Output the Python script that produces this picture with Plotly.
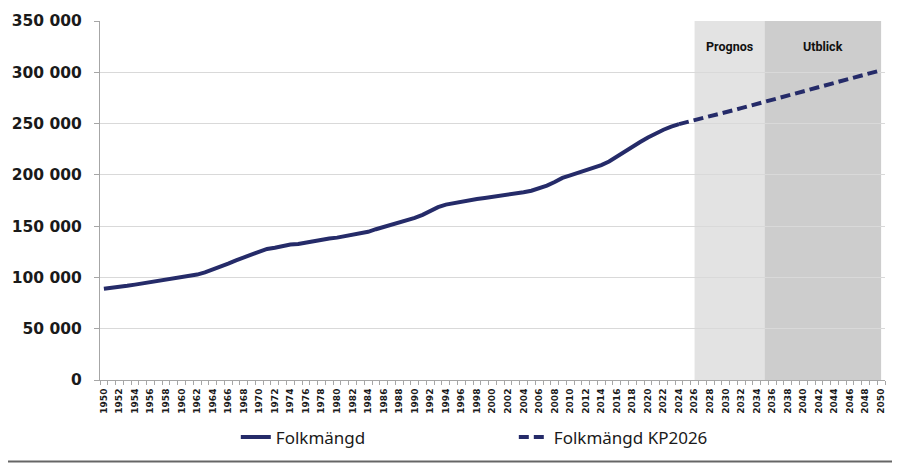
import plotly.graph_objects as go

# Befolkning per år (utfall)
years = list(range(1950, 2025))
folkmangd = [
    89000, 89700, 90500, 91800, 93000, 94300, 95500, 96800, 98000, 99000,
    100000, 101200, 102800, 105000, 107500, 110300, 113500, 116700, 119500, 122500,
    126000, 127800, 129000, 131000, 132000, 132500, 134000, 135500, 137000, 138000,
    138800, 140000, 141500, 142500, 144500, 147000, 149000, 151000, 153000, 155500,
    158000, 161000, 164800, 168500, 171000, 172500, 174000, 175300, 176500, 177500,
    178500, 179500, 180500, 181500, 183000, 184500, 186500, 189500, 193000, 197000,
    199500, 202000, 204500, 207000, 209500, 213000, 218000, 222500, 228000, 232000,
    236500, 240500, 244000, 247000, 249500,
]

# Prognos KP2026
prog_years = list(range(2024, 2051))
prognos = [
    249500, 251300, 253200, 255100, 257000, 259000, 261000, 263000, 265000, 267000,
    269000, 271000, 273000, 275000, 277000, 279000, 281000, 283100, 285200, 287300,
    289400, 291500, 293600, 295700, 297800, 299900, 302000,
]

# Perioder för bakgrundsfält
periods = [("Prognos", 2026, 2035, "#E3E3E3"), ("Utblick", 2035, 2050, "#CDCDCD")]

tick_years = list(range(1950, 2051, 2))

NAVY = "#252B69"
W, H = 900, 464
# sidan har 8 px marginal i webbläsaren, så plottytan flyttas 8 px upp/vänster
OFF = 8
ML, MR, MT, MB = 100 - OFF, 15 + OFF, 21 - OFF, 84 + OFF

fig = go.Figure()
fig.add_trace(go.Scatter(
    x=years, y=folkmangd, name="Folkmängd", mode="lines",
    line=dict(color=NAVY, width=4),
))
fig.add_trace(go.Scatter(
    x=prog_years, y=prognos, name="Folkmängd KP2026", mode="lines",
    line=dict(color=NAVY, width=4, dash="10px,5px"),
))

for label, x0, x1, col in periods:
    fig.add_shape(type="rect", xref="x", yref="y", x0=x0, x1=x1, y0=0, y1=350000,
                  fillcolor=col, line_width=0, layer="below")
    fig.add_annotation(x=(x0 + x1) / 2, y=325000, text=label, showarrow=False,
                       font=dict(family="Roboto", size=12.5, color="#111111", weight="bold"))

# ram (höger och nederkant syns i fönstret)
pw = W - ML - MR
ph = H - MT - MB
fx1 = (894 - OFF - ML) / pw
fy0 = (ph + MT - (461.5 - OFF)) / ph
fig.add_shape(type="line", xref="paper", yref="paper", x0=fx1, x1=fx1, y0=fy0, y1=1 + MT / ph,
              line=dict(color="#666666", width=2))
fig.add_shape(type="line", xref="paper", yref="paper", x0=-ML / pw, x1=fx1, y0=fy0, y1=fy0,
              line=dict(color="#666666", width=2))

fig.update_layout(
    width=W, height=H,
    margin=dict(l=ML, r=MR, t=MT, b=MB, autoexpand=False),
    paper_bgcolor="white", plot_bgcolor="white",
    separators=", ",
    showlegend=True,
    legend=dict(
        orientation="h", x=0.173, xanchor="left", y=-0.16, yanchor="middle",
        font=dict(family="Noto Sans", size=17, color="#1A1A1A"),
        entrywidth=233, entrywidthmode="pixels",
        bgcolor="rgba(0,0,0,0)",
    ),
)

fig.update_xaxes(
    range=[1949.5, 2050.5], automargin=False,
    tickvals=tick_years, ticktext=[str(y) for y in tick_years],
    tickangle=-90, ticks="", ticklabelstandoff=4,
    tickfont=dict(family="DejaVu Sans", size=9, color="#1A1A1A", weight="bold"),
    showgrid=False, zeroline=False,
    showline=True, linecolor="#A6A6A6", linewidth=1,
    minor=dict(tick0=1949.5, dtick=1, ticks="outside", ticklen=4, tickcolor="#A6A6A6", showgrid=False),
)
fig.update_yaxes(
    range=[0, 350000], dtick=50000, tickformat=",d", automargin=False,
    tickfont=dict(family="DejaVu Sans", size=15.5, color="#1A1A1A", weight="bold"),
    showgrid=True, gridcolor="#D9D9D9", gridwidth=1,
    zeroline=False, showline=True, linecolor="#A6A6A6", linewidth=1,
    ticks="outside", ticklen=5, tickcolor="#A6A6A6", ticklabelstandoff=9,
)

fig.write_html("out.html")
